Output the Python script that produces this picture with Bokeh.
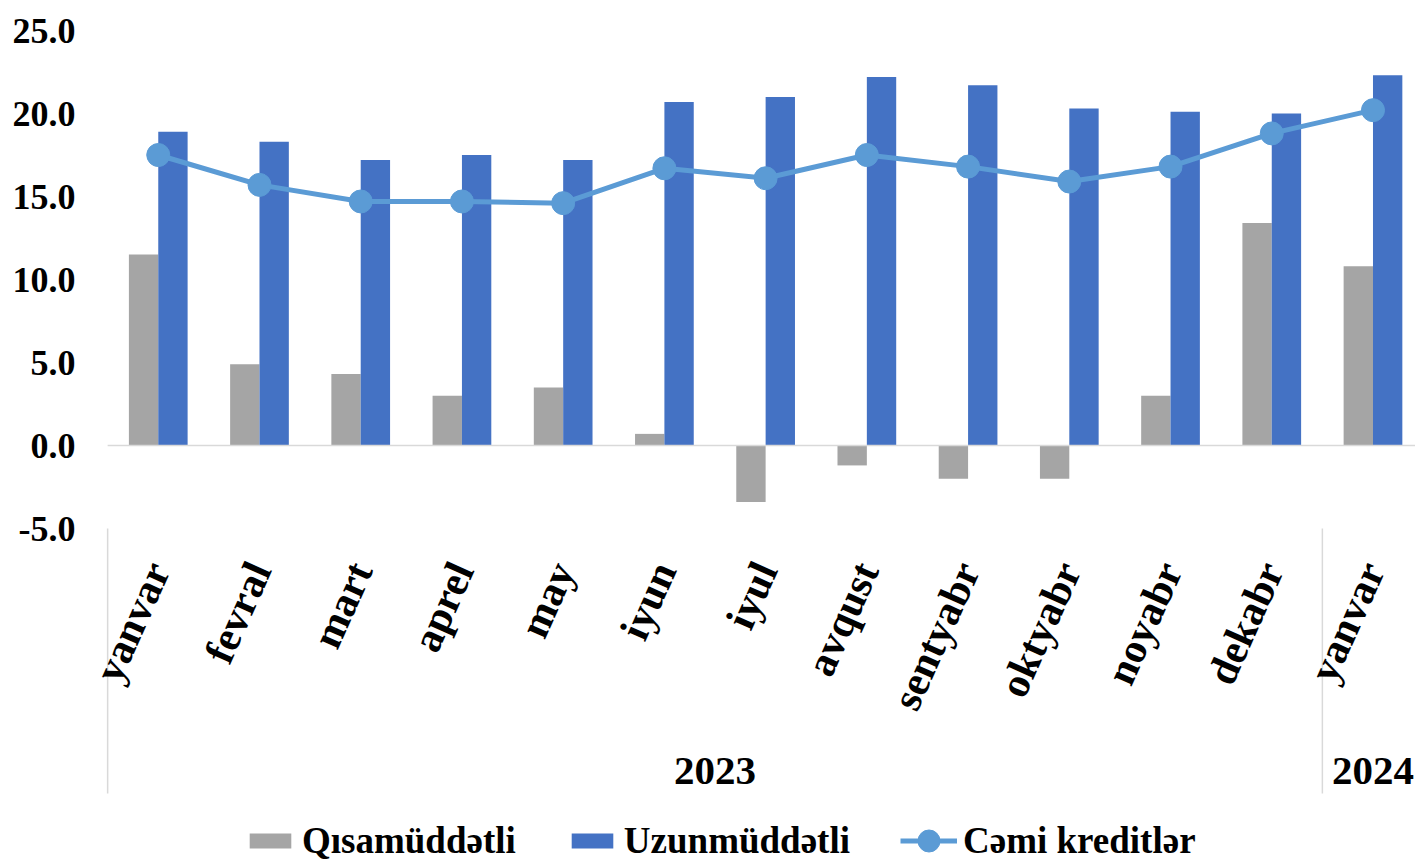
from bokeh.plotting import figure
from bokeh.models import (ColumnDataSource, Range1d, FixedTicker, NumeralTickFormatter,
                          Label, Legend, LegendItem)
from bokeh.transform import dodge
from bokeh.embed import file_html
from bokeh.resources import INLINE

months = ["yanvar", "fevral", "mart", "aprel", "may", "iyun", "iyul", "avqust",
          "sentyabr", "oktyabr", "noyabr", "dekabr", "yanvar"]
years = ["2023", "2024"]
year_counts = [12, 1]
short_term = [11.5, 4.9, 4.3, 3.0, 3.5, 0.7, -3.4, -1.2, -2.0, -2.0, 3.0, 13.4, 10.8]
long_term = [18.9, 18.3, 17.2, 17.5, 17.2, 20.7, 21.0, 22.2, 21.7, 20.3, 20.1, 20.0, 22.3]
total = [17.5, 15.7, 14.7, 14.7, 14.6, 16.7, 16.1, 17.5, 16.8, 15.9, 16.8, 18.8, 20.2]
y_ticks = [-5, 0, 5, 10, 15, 20, 25]
series_names = ["Qısamüddətli", "Uzunmüddətli", "Cəmi kreditlər"]

FONT = "Liberation Serif"
GREY = "#A5A5A5"
BLUE = "#4472C4"
LINE = "#5B9BD5"
AXIS_GREY = "#D9D9D9"

W, H = 1415, 861
TOP = 30              # px above the value 25
VALUE_PX = 498        # px spanned by the value axis (-5 .. 25)
LEFT = 95
y_lo, y_hi = y_ticks[0], y_ticks[-1]
ppu = VALUE_PX / (y_hi - y_lo)
below_px = H - TOP - VALUE_PX
y_bottom = y_lo - below_px / ppu   # frame extends under the axis for group labels/legend
x_start, x_end = -0.62, 12.42

idx = list(range(len(months)))
src = ColumnDataSource(dict(x=idx, short=short_term, long=long_term, total=total))

p = figure(width=W, height=H, output_backend="svg", toolbar_location=None,
           x_range=Range1d(x_start, x_end), y_range=Range1d(y_bottom, y_hi),
           min_border_left=LEFT, min_border_right=0, min_border_top=TOP, min_border_bottom=0)
p.outline_line_color = None
p.xgrid.visible = False
p.ygrid.visible = False

bw = 0.29
r_short = p.vbar(x=dodge("x", -bw / 2), top="short", bottom=0, width=bw, source=src,
                 fill_color=GREY, line_color=None)
r_long = p.vbar(x=dodge("x", bw / 2), top="long", bottom=0, width=bw, source=src,
                fill_color=BLUE, line_color=None)

# zero line, starting at the category axis' left boundary
p.segment(x0=[-0.5], x1=[x_end], y0=[0], y1=[0], line_color=AXIS_GREY, line_width=1.5)

r_line = p.line(x="x", y="total", source=src, line_color=LINE, line_width=5)
r_pts = p.scatter(x="x", y="total", source=src, size=23, fill_color=LINE, line_color=LINE)

# Y axis
ya = p.yaxis[0]
ya.ticker = FixedTicker(ticks=y_ticks)
ya.formatter = NumeralTickFormatter(format="0.0")
ya.axis_line_color = None
ya.major_tick_line_color = None
ya.minor_tick_line_color = None
ya.major_tick_out = 0
ya.major_tick_in = 0
ya.major_label_text_font = FONT
ya.major_label_text_font_style = "bold"
ya.major_label_text_font_size = "36px"
ya.major_label_text_color = "black"
ya.major_label_standoff = 20

# X axis (month labels), placed at the bottom of the value range
xa = p.xaxis[0]
xa.fixed_location = y_lo
xa.ticker = FixedTicker(ticks=idx)
xa.major_label_overrides = {i: m for i, m in zip(idx, months)}
xa.major_label_orientation = 1.15
xa.axis_line_color = None
xa.major_tick_line_color = None
xa.minor_tick_line_color = None
xa.major_tick_out = 0
xa.major_tick_in = 0
xa.major_label_standoff = 36
xa.major_label_text_font = FONT
xa.major_label_text_font_style = "bold"
xa.major_label_text_font_size = "42px"
xa.major_label_text_color = "black"

# Year group separators and year labels
bounds = [-0.5]
start = 0
year_y = y_lo - 242 / ppu
for yr, c in zip(years, year_counts):
    center = start + (c - 1) / 2
    p.add_layout(Label(x=center, y=year_y, text=yr,
                       text_align="center", text_baseline="middle",
                       text_font=FONT, text_font_style="bold", text_font_size="41px",
                       text_color="black"))
    start += c
    bounds.append(start - 0.5)
sep_x = bounds[:-1]
p.segment(x0=sep_x, x1=sep_x, y0=[y_lo] * len(sep_x), y1=[y_lo - 265 / ppu] * len(sep_x),
          line_color=AXIS_GREY, line_width=1.5)

legend_style = dict(orientation="horizontal", padding=0, margin=0, spacing=50,
                    label_standoff=6, border_line_color=None, background_fill_alpha=0,
                    label_text_font=FONT, label_text_font_style="bold",
                    label_text_font_size="37px", label_text_color="black")
legend_bars = Legend(items=[LegendItem(label=series_names[0], renderers=[r_short]),
                            LegendItem(label=series_names[1], renderers=[r_long])],
                     location=(149, -1), glyph_width=52, glyph_height=19, label_height=19,
                     **legend_style)
legend_line = Legend(items=[LegendItem(label=series_names[2], renderers=[r_line, r_pts])],
                     location=(805, -7), glyph_width=57, glyph_height=55, label_height=19,
                     **legend_style)
p.add_layout(legend_bars, "center")
p.add_layout(legend_line, "center")

open("out.html", "w").write(file_html(p, INLINE))
